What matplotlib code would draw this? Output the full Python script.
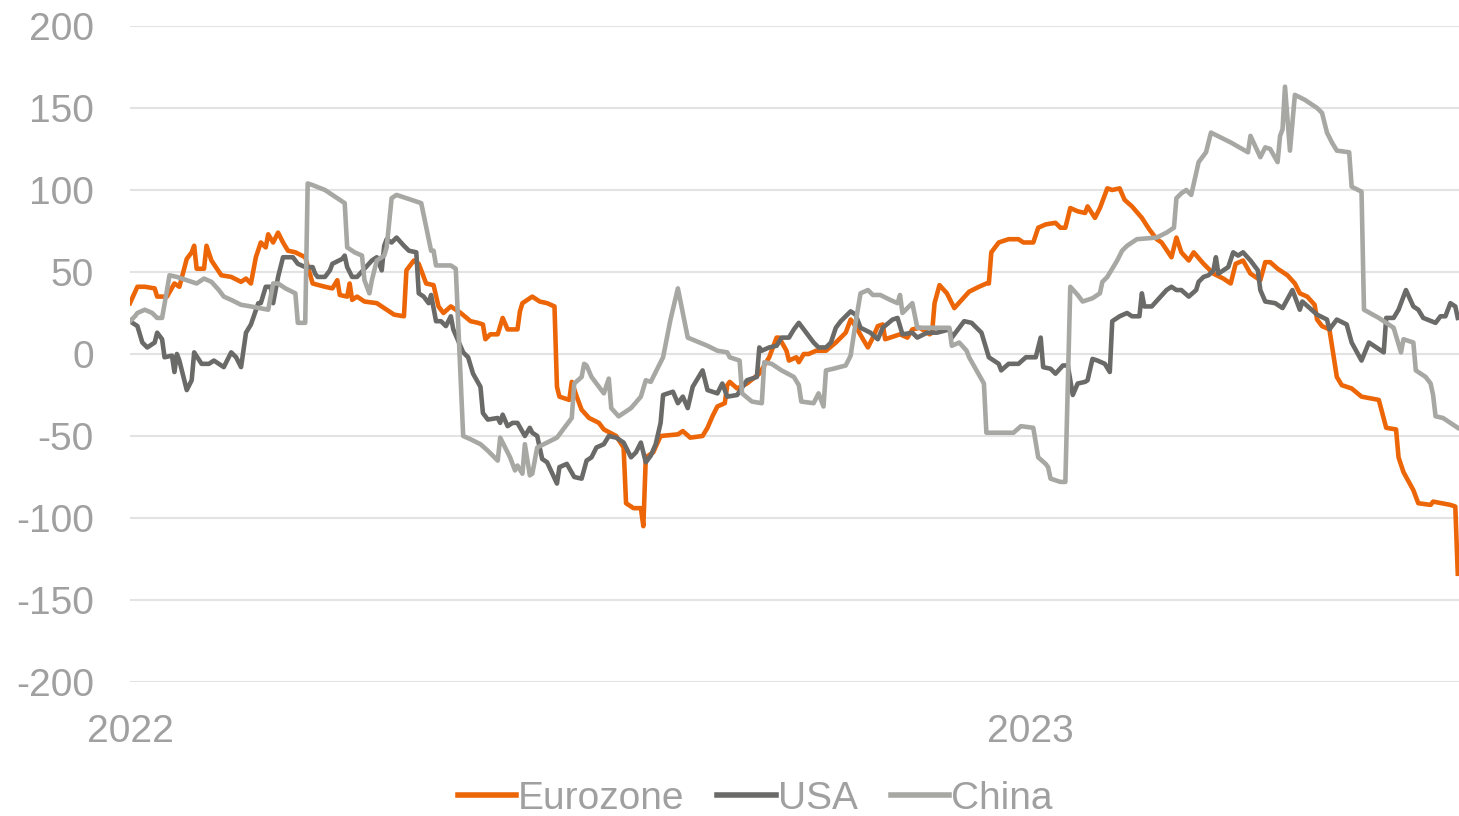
import matplotlib
matplotlib.use("Agg")
import matplotlib.pyplot as plt
import matplotlib.dates as mdates
import pandas as pd

start = pd.Timestamp("2022-01-01")

# days since 2022-01-01 / values
eu_days = [0, 3, 6, 10, 11, 15, 18, 20, 23, 25, 26, 27, 30, 31, 33, 37, 41, 45, 47, 49,
           51, 53, 55, 56, 58, 60, 62, 64, 67, 71, 74, 79, 82, 84, 85, 88, 89, 90, 92, 95,
           100, 104, 107, 111, 112, 115, 117, 120, 123, 125, 127, 130, 134, 138, 141, 143,
           144, 146, 149, 151, 153, 157, 158, 159, 163, 166, 169, 172, 173, 174, 178, 179,
           181, 183, 186, 190, 192, 197, 200, 201, 204, 207, 208, 209, 212, 215, 222, 224,
           227, 232, 234, 236, 238, 241, 242, 243, 246, 250, 255, 259, 262, 263, 266, 267,
           270, 271, 273, 275, 278, 282, 286, 290, 292, 294, 297, 299, 301, 303, 305, 306,
           308, 312, 315, 317, 320, 324, 325, 326, 328, 331, 334, 337, 340, 344, 347, 348,
           349, 352, 356, 360, 362, 366, 368, 371, 375, 377, 379, 381, 384, 387, 388, 391,
           393, 396, 398, 401, 403, 406, 410, 413, 416, 418, 422, 424, 426, 429, 431, 435,
           439, 443, 446, 448, 451, 454, 458, 460, 462, 465, 469, 472, 474, 477, 480, 481,
           483, 486, 489, 491, 495, 499, 506, 509, 513, 514, 516, 520, 522, 527, 528, 535,
           537, 538]
eu_vals = [31, 41, 41, 40, 35, 35, 43, 41, 58, 62, 66, 52, 52, 66, 57, 48, 47, 44, 46, 43,
           59, 68, 65, 73, 68, 74, 68, 63, 62, 59, 43, 41, 40, 45, 36, 35, 43, 33, 35, 32,
           31, 27, 24, 23, 51, 57, 55, 43, 42, 29, 25, 29, 25, 20, 19, 18,
           9, 12, 12, 22, 15, 15, 26, 31, 35, 32, 31, 29, -20, -26, -28, -17,
           -26, -34, -39, -42, -46, -50, -57, -91, -94, -94, -105, -63, -60, -50, -49, -47,
           -51, -50, -45, -38, -32, -30, -19, -17, -21, -18, -12, -2, 10, 10, 2, -4,
           -2, -5, 0, 0, 2, 2, 7, 13, 21, 17, 9, 4, 10, 17, 18, 9,
           10, 12, 10, 15, 16, 12, 13, 31, 42, 37, 28, 33, 38, 41, 43, 43,
           62, 68, 70, 70, 68, 68, 77, 79, 80, 77, 77, 89, 87, 86, 90, 83,
           89, 101, 100, 101, 94, 90, 83, 76, 70, 68, 59, 71, 62, 57, 62, 55,
           49, 46, 43, 55, 57, 49, 45, 56, 56, 52, 48, 43, 37, 35, 30, 21,
           17, 15, -14, -19, -21, -26, -28, -45, -46, -63, -72, -83, -91, -92, -90, -92,
           -93, -134]

us_days = [0, 3, 5, 7, 10, 11, 13, 14, 17, 18, 19, 20, 23, 25, 26, 29, 32, 34, 38, 41,
           43, 45, 47, 49, 52, 53, 55, 57, 58, 60, 62, 66, 68, 71, 74, 75, 76, 79, 81, 82,
           86, 87, 88, 90, 92, 95, 98, 100, 102, 103, 104, 106, 108, 111, 113, 116, 117, 119,
           121, 122, 124, 126, 128, 130, 131, 135, 137, 139, 142, 143, 145, 149, 150, 151,
           153, 155, 157, 160, 162, 163, 165, 167, 169, 173, 174, 177, 180, 183, 185, 187,
           189, 192, 194, 197, 200, 203, 205, 207, 209, 211, 213, 215, 216, 220, 222, 224,
           226, 228, 232, 234, 238, 240, 242, 246, 250, 254, 255, 256, 259, 262, 264, 267,
           269, 271, 274, 277, 279, 282, 284, 286, 288, 292, 294, 296, 300, 303, 305, 309,
           311, 313, 317, 319, 323, 327, 332, 333, 338, 341, 345, 348, 352, 353, 356, 360,
           363, 367, 369, 370, 373, 375, 378, 380, 382, 384, 387, 388, 390, 392, 395, 397,
           398, 401, 404, 406, 409, 410, 411, 414, 417, 420, 422, 424, 426, 429, 432, 433,
           435, 437, 439, 440, 441, 443, 445, 447, 449, 451, 454, 457, 458, 460, 464, 467,
           471, 474, 475, 478, 481, 485, 486, 489, 493, 495, 499, 502, 505, 508, 509, 512,
           514, 517, 520, 522, 524, 529, 531, 533, 535, 537, 538]
us_vals = [20, 17, 7, 4, 7, 13, 9, -2, -1, -11, 0, -4, -22, -16, 1, -6, -6, -4, -8, 1,
           -2, -8, 13, 18, 31, 31, 41, 41, 31, 47, 59, 59, 55, 53, 53, 49, 47, 47, 51, 55,
           58, 60, 53, 47, 47, 52, 57, 59, 51, 66, 70, 68, 71, 66, 63, 62, 37, 35,
           31, 36, 20, 20, 17, 23, 15, 1, -2, -12, -20, -36, -40, -39, -42, -37,
           -44, -42, -42, -50, -45, -48, -50, -64, -66, -79, -69, -67, -75, -76, -65, -63,
           -57, -55, -50, -51, -54, -63, -60, -54, -66, -62, -55, -42, -25, -23, -30, -26,
           -33, -20, -10, -22, -24, -18, -26, -25, -16, -14, 4, 2, 4, 5, 10, 10,
           15, 19, 13, 7, 4, 4, 7, 16, 20, 26, 24, 16, 13, 9, 16, 21,
           22, 12, 13, 10, 13, 13, 15, 10, 20, 19, 13, -2, -6, -10, -6, -6,
           -2, -2, 10, -8, -9, -12, -7, -7, -25, -18, -17, -16, -3, -4, -6, -11,
           20, 23, 25, 23, 23, 37, 29, 29, 34, 39, 41, 39, 39, 35, 39, 44,
           47, 48, 51, 59, 49, 51, 53, 62, 60, 62, 57, 51, 39, 32, 31, 28,
           39, 27, 32, 28, 24, 21, 15, 21, 18, 7, -4, 7, 4, 1, 22, 22,
           27, 39, 29, 27, 22, 19, 23, 23, 31, 29, 22]

cn_days = [0, 2, 3, 6, 9, 11, 13, 15, 16, 19, 23, 27, 30, 33, 36, 38, 41, 45, 49, 56,
           58, 60, 63, 67, 68, 71, 72, 74, 79, 87, 88, 91, 94, 95, 97, 98, 100, 103, 104, 106,
           108, 118, 122, 123, 124, 130, 132, 135, 138, 142, 145, 149, 150, 152, 154, 156,
           157, 159, 160, 162, 163, 165, 169, 173, 176, 179, 180, 183, 184, 185, 187, 190,
           192, 194, 195, 198, 203, 207, 209, 211, 214, 216, 219, 222, 226, 234, 238, 242,
           243, 247, 248, 252, 256, 257, 260, 264, 269, 271, 272, 277, 279, 281, 282, 285,
           290, 292, 294, 296, 299, 301, 304, 308, 311, 312, 313, 317, 319, 324, 332, 333,
           336, 339, 340, 346, 347, 358, 361, 366, 368, 371, 372, 373, 377, 379, 381, 384,
           386, 390, 393, 394, 396, 398, 400, 402, 404, 408, 416, 420, 423, 424, 426, 428,
           430, 433, 436, 438, 446, 453, 454, 458, 460, 462, 465, 466, 467, 468, 470, 472,
           476, 481, 483, 485, 487, 489, 494, 495, 499, 500, 506, 510, 512, 515, 516, 520,
           521, 525, 527, 528, 529, 532, 538]
cn_vals = [20, 23, 25, 27, 25, 22, 22, 39, 48, 47, 45, 43, 46, 44, 39, 35, 33, 30, 29, 27,
           43, 43, 40, 37, 19, 19, 104, 103, 100, 92, 65, 62, 60, 45, 37, 45, 57, 60, 65, 95,
           97, 92, 63, 63, 54, 54, 52, -50, -52, -55, -59, -65, -51, -57, -63, -71,
           -68, -73, -55, -74, -73, -57, -54, -51, -45, -39, -18, -14, -6, -7, -14, -20,
           -24, -15, -33, -38, -33, -26, -16, -17, -8, -2, 21, 40, 10, 5, 2, 1,
           -2, -4, -24, -29, -30, -5, -6, -10, -14, -19, -29, -30, -24, -32, -10, -9,
           -7, -1, 19, 37, 39, 36, 36, 33, 31, 36, 25, 31, 16, 16, 16, 5,
           7, 2, -2, -18, -48, -48, -44, -45, -63, -67, -69, -76, -78, -78, 41, 36,
           32, 34, 37, 44, 47, 52, 57, 63, 66, 70, 71, 74, 77, 95, 98, 100,
           97, 117, 123, 135, 129, 123, 133, 120, 126, 125, 117, 133, 137, 163, 124, 158,
           155, 150, 147, 135, 129, 124, 123, 102, 99, 27, 22, 18, 16, 1, 9, 7,
           -10, -14, -18, -25, -38, -39, -45]

series = [("Eurozone", eu_days, eu_vals, "#ec6608"),
          ("USA", us_days, us_vals, "#6a6a69"),
          ("China", cn_days, cn_vals, "#a7a7a4")]

plt.rcParams['font.family'] = ['Liberation Sans', 'DejaVu Sans']
plt.rcParams['axes.unicode_minus'] = False
fig = plt.figure(figsize=(14.59, 8.16), dpi=100)
ax = fig.add_axes([130 / 1459, 1 - 682 / 816, 1 - 130 / 1459, (682 - 26) / 816])

for name, days, vals, col in series:
    dates = start + pd.to_timedelta(days, unit="D")
    ax.plot(dates, vals, color=col, lw=3.3, label=name, solid_joinstyle="round")

ax.set_ylim(-200, 200)
ax.set_yticks(range(-200, 201, 50))
ax.set_xlim(start, start + pd.Timedelta(days=538.5))
ax.xaxis.set_major_locator(mdates.YearLocator())
ax.xaxis.set_major_formatter(mdates.DateFormatter("%Y"))

ax.grid(axis="y", color="#e3e3e3", lw=1.5)
ax.grid(axis="x", visible=False)
ax.set_axisbelow(True)
for s in ax.spines.values():
    s.set_visible(False)
ax.tick_params(axis="both", length=0, labelsize=28, labelcolor="#a0a0a0")
ax.tick_params(axis="y", pad=26)
ax.tick_params(axis="x", pad=23)

leg = fig.legend(loc="center", bbox_to_anchor=(755 / 1459, 1 - 799 / 816), ncol=3,
                 frameon=False, fontsize=28, handlelength=1.5, handletextpad=0.05,
                 columnspacing=0.85, borderpad=0, borderaxespad=0)
for t in leg.get_texts():
    t.set_color("#a0a0a0")
for h in leg.get_lines():
    h.set_linewidth(4)

fig.savefig("out.png", dpi=100)
